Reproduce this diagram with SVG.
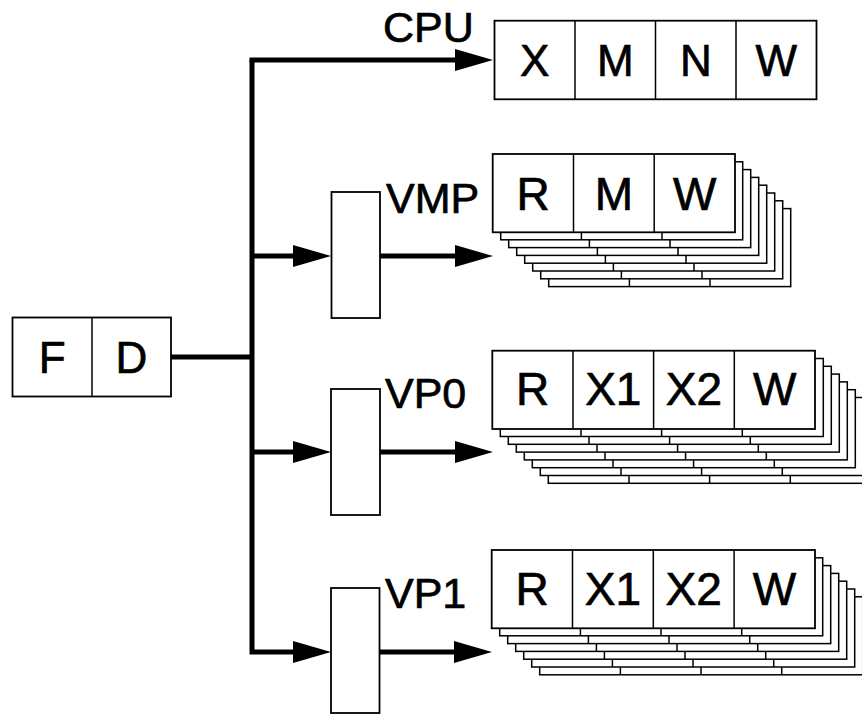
<svg xmlns="http://www.w3.org/2000/svg" width="862" height="714" viewBox="0 0 862 714">
<style>
  .box{fill:#fff;stroke:#000;stroke-width:1.8}
  .lay{fill:#fff;stroke:#000;stroke-width:1.5}
  .div{stroke:#000;stroke-width:1.5}
  .wire{fill:none;stroke:#000;stroke-width:5;stroke-linejoin:miter}
  .cell{font-family:"Liberation Sans",Arial,Helvetica,sans-serif;font-size:44px;text-anchor:middle;fill:#000;stroke:#000;stroke-width:0.7}
  .scell{font-family:"Liberation Sans",Arial,Helvetica,sans-serif;font-size:46px;text-anchor:middle;fill:#000;stroke:#000;stroke-width:0.7}
  .lbl{font-family:"Liberation Sans",Arial,Helvetica,sans-serif;font-size:43px;fill:#000;stroke:#000;stroke-width:0.7}
</style>
<defs>
  <marker id="ah" markerUnits="userSpaceOnUse" markerWidth="38" markerHeight="22" refX="0" refY="11" orient="auto" overflow="visible">
    <path d="M0,0 L38,11 L0,22 z" fill="#000"/>
  </marker>
  <g id="layer3">
    <rect class="lay" x="0" y="0" width="242" height="78"/>
    <line class="div" x1="80.7" y1="0" x2="80.7" y2="78"/>
    <line class="div" x1="161.3" y1="0" x2="161.3" y2="78"/>
  </g>
  <g id="layer4">
    <rect class="lay" x="0" y="0" width="323" height="78"/>
    <line class="div" x1="80.7" y1="0" x2="80.7" y2="78"/>
    <line class="div" x1="161.3" y1="0" x2="161.3" y2="78"/>
    <line class="div" x1="242" y1="0" x2="242" y2="78"/>
  </g>
</defs>
<rect x="0" y="0" width="862" height="714" fill="#fff"/>

<g id="connectors">
  <path class="wire" d="M171,357 H252"/>
  <path class="wire" d="M252,60 V652 H293" marker-end="url(#ah)"/>
  <path class="wire" d="M249.5,60 H455" marker-end="url(#ah)"/>
  <path class="wire" d="M252,256 H293" marker-end="url(#ah)"/>
  <path class="wire" d="M252,452 H293" marker-end="url(#ah)"/>
  <path class="wire" d="M380,256 H455" marker-end="url(#ah)"/>
  <path class="wire" d="M380,452 H455" marker-end="url(#ah)"/>
  <path class="wire" d="M380,652 H454" marker-end="url(#ah)"/>
</g>

<g id="fd">
  <rect class="box" x="12.5" y="317.5" width="158.5" height="79"/>
  <line class="div" x1="92" y1="317.5" x2="92" y2="396.5"/>
  <text class="cell" x="52.3" y="373">F</text>
  <text class="cell" x="131.5" y="373">D</text>
</g>

<g id="cpu">
  <text class="lbl" x="383" y="42">CPU</text>
  <rect class="box" x="494.5" y="20.7" width="322" height="78.6"/>
  <line class="div" x1="575" y1="20.7" x2="575" y2="99.3"/>
  <line class="div" x1="655.5" y1="20.7" x2="655.5" y2="99.3"/>
  <line class="div" x1="736" y1="20.7" x2="736" y2="99.3"/>
  <text class="cell" x="534.7" y="76">X</text>
  <text class="cell" x="615.3" y="76">M</text>
  <text class="cell" x="695.8" y="76">N</text>
  <text class="cell" x="776.3" y="76">W</text>
</g>

<g id="vmp-mux">
  <rect class="box" x="331.5" y="192" width="48.5" height="126"/>
</g>
<g id="vp0-mux">
  <rect class="box" x="331" y="389" width="49" height="126"/>
</g>
<g id="vp1-mux">
  <rect class="box" x="331" y="588" width="48.5" height="125"/>
</g>

<g id="vmp">
  <text class="lbl" x="386" y="212.5">VMP</text>
  <use href="#layer3" x="548.7" y="208.6"/>
  <use href="#layer3" x="540.7" y="200.8"/>
  <use href="#layer3" x="532.7" y="193"/>
  <use href="#layer3" x="524.7" y="185.2"/>
  <use href="#layer3" x="516.7" y="177.4"/>
  <use href="#layer3" x="508.7" y="169.6"/>
  <use href="#layer3" x="500.7" y="161.8"/>
  <rect class="box" x="492.7" y="154" width="242.3" height="78.3"/>
  <line class="div" x1="573.5" y1="154" x2="573.5" y2="232.3"/>
  <line class="div" x1="654.2" y1="154" x2="654.2" y2="232.3"/>
  <text class="scell" x="533.1" y="209.5">R</text>
  <text class="scell" x="613.9" y="209.5">M</text>
  <text class="scell" x="694.6" y="209.5">W</text>
</g>

<g id="vp0">
  <text class="lbl" x="385" y="408">VP0</text>
  <use href="#layer4" x="548.3" y="405.3"/>
  <use href="#layer4" x="540.3" y="397.5"/>
  <use href="#layer4" x="532.3" y="389.7"/>
  <use href="#layer4" x="524.3" y="381.9"/>
  <use href="#layer4" x="516.3" y="374.1"/>
  <use href="#layer4" x="508.3" y="366.3"/>
  <use href="#layer4" x="500.3" y="358.5"/>
  <rect class="box" x="492.3" y="350.7" width="322.7" height="78.3"/>
  <line class="div" x1="573" y1="350.7" x2="573" y2="429"/>
  <line class="div" x1="653.6" y1="350.7" x2="653.6" y2="429"/>
  <line class="div" x1="734.3" y1="350.7" x2="734.3" y2="429"/>
  <text class="scell" x="532.6" y="405">R</text>
  <text class="scell" x="613.3" y="405">X1</text>
  <text class="scell" x="694" y="405">X2</text>
  <text class="scell" x="774.6" y="405">W</text>
</g>

<g id="vp1">
  <text class="lbl" x="385" y="608">VP1</text>
  <use href="#layer4" x="539.7" y="596.8"/>
  <use href="#layer4" x="531.7" y="589"/>
  <use href="#layer4" x="523.7" y="581.2"/>
  <use href="#layer4" x="515.7" y="573.4"/>
  <use href="#layer4" x="507.7" y="565.6"/>
  <use href="#layer4" x="499.7" y="557.8"/>
  <rect class="box" x="491.7" y="550" width="323.3" height="78.3"/>
  <line class="div" x1="572.5" y1="550" x2="572.5" y2="628.3"/>
  <line class="div" x1="653.3" y1="550" x2="653.3" y2="628.3"/>
  <line class="div" x1="734.1" y1="550" x2="734.1" y2="628.3"/>
  <text class="scell" x="532.1" y="605">R</text>
  <text class="scell" x="612.9" y="605">X1</text>
  <text class="scell" x="693.7" y="605">X2</text>
  <text class="scell" x="774.5" y="605">W</text>
</g>
</svg>
